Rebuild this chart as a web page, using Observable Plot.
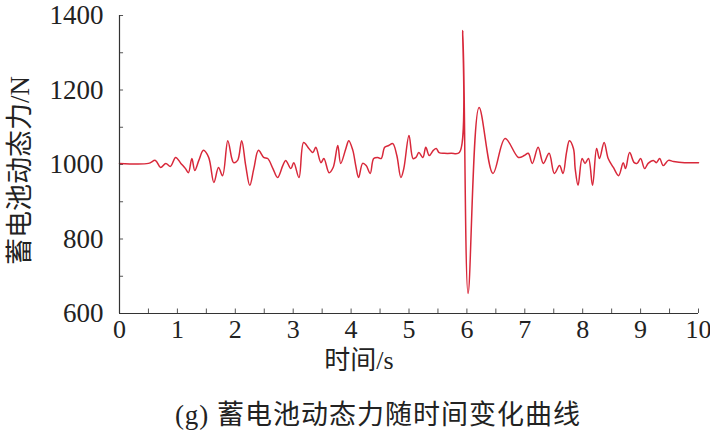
<!DOCTYPE html>
<html>
<head>
<meta charset="utf-8">
<script src="https://cdn.jsdelivr.net/npm/d3@7"></script>
<script src="https://cdn.jsdelivr.net/npm/@observablehq/plot@0.6"></script>
<style>
  html, body { margin: 0; padding: 0; background: #fff; }
  #wrap { width: 710px; height: 440px; position: relative; font-family: "Liberation Serif", "Noto Sans CJK SC", serif; }
  #caption { position: absolute; left: 0; width: 756px; top: 393px; text-align: center; font-size: 27px; letter-spacing: 1px; color: #222; font-family: "Liberation Serif", "Noto Sans CJK SC", serif; }
</style>
</head>
<body>
<div id="wrap"><div id="chart"></div><div id="caption">(g) 蓄电池动态力随时间变化曲线</div></div>
<script>
// time (s)
const time = [0, 0.50, 0.62, 0.71, 0.80, 0.88, 0.97, 1.06, 1.14, 1.19, 1.25, 1.30, 1.37, 1.45, 1.54, 1.63, 1.71, 1.78, 1.87, 1.94, 1.97, 2.04, 2.11, 2.18, 2.25, 2.32, 2.40, 2.49, 2.56, 2.65, 2.73, 2.82, 2.87, 2.96, 3.01, 3.10, 3.18, 3.27, 3.34, 3.39, 3.48, 3.53, 3.62, 3.69, 3.77, 3.82, 3.91, 3.96, 4.03, 4.08, 4.13, 4.20, 4.26, 4.33, 4.39, 4.46, 4.52, 4.58, 4.65, 4.72, 4.79, 4.86, 4.91, 5.00, 5.07, 5.12, 5.17, 5.24, 5.29, 5.35, 5.42, 5.47, 5.52, 5.61, 5.73, 5.87, 5.93, 6.02, 6.21, 6.45, 6.66, 6.89, 6.99, 7.06, 7.13, 7.23, 7.32, 7.42, 7.51, 7.60, 7.66, 7.72, 7.77, 7.84, 7.87, 7.92, 7.99, 8.04, 8.10, 8.17, 8.24, 8.29, 8.37, 8.44, 8.53, 8.62, 8.70, 8.74, 8.81, 8.89, 8.94, 9.00, 9.07, 9.13, 9.22, 9.27, 9.33, 9.39, 9.48, 9.57, 9.76, 10.0];
// dynamic force (N)
const force = [1003, 1003, 1011, 992, 1003, 995, 1019, 1003, 989, 978, 1016, 984, 1011, 1038, 1019, 952, 992, 970, 1064, 1016, 1005, 1011, 1064, 997, 944, 989, 1038, 1019, 1016, 989, 965, 997, 1011, 989, 1005, 965, 1059, 1043, 1032, 1046, 1005, 1016, 978, 992, 1051, 1003, 1043, 1064, 1038, 997, 965, 1003, 997, 976, 1016, 1019, 1016, 1046, 1051, 1056, 1024, 965, 989, 1078, 1016, 1019, 1032, 1019, 1046, 1024, 1038, 1043, 1032, 1030, 1030, 1032, 1360, 654, 1153, 976, 1070, 1019, 1024, 1030, 1003, 1046, 1003, 1030, 976, 997, 976, 1032, 1064, 1043, 989, 944, 1016, 1003, 1016, 944, 1043, 1016, 1059, 1016, 992, 970, 1005, 989, 1032, 1005, 1003, 1016, 989, 1003, 1011, 1005, 1016, 997, 1011, 1008, 1005, 1005];

const xTickLabels = [0, 1, 2, 3, 4, 5, 6, 7, 8, 9, 10];
const xMinorTicks = [0, 0.5, 1, 1.5, 2, 2.5, 3, 3.5, 4, 4.5, 5, 5.5, 6, 6.5, 7, 7.5, 8, 8.5, 9, 9.5, 10];
const yTickLabels = [600, 800, 1000, 1200, 1400];
const yMinorTicks = [600, 700, 800, 900, 1000, 1100, 1200, 1300, 1400];
const xTitle = "时间/s";
const yTitle = "蓄电池动态力/N";

const data = time.map((t, i) => ({t, f: force[i]}));
const font = "'Liberation Serif', 'Noto Sans CJK SC', serif";

const chart = Plot.plot({
  width: 710,
  height: 390,
  marginLeft: 119,
  marginRight: 12,
  marginTop: 15,
  marginBottom: 77,
  style: {fontFamily: font, fontSize: "27px", color: "#222", background: "#fff", overflow: "visible"},
  x: {domain: [0, 10]},
  y: {domain: [600, 1400]},
  marks: [
    Plot.axisX(xTickLabels, {tickSize: 0, tickPadding: 6, label: null, fontSize: 26, tickFormat: d3.format("d")}),
    Plot.axisY(yTickLabels, {tickSize: 0, tickPadding: 16, label: null, fontSize: 27, tickFormat: d3.format("d")}),
    Plot.ruleX(xMinorTicks, {y1: 600, y2: 612, stroke: "#555", strokeWidth: 1}),
    Plot.ruleY(yMinorTicks, {x1: 0, x2: 0.07, stroke: "#555", strokeWidth: 1}),
    Plot.line(data, {x: "t", y: "f", stroke: "#d8283a", strokeWidth: 1.5, curve: "catmull-rom"}),
    Plot.ruleY([600], {stroke: "#333", strokeWidth: 1.2}),
    Plot.ruleX([0], {stroke: "#333", strokeWidth: 1.2}),
    Plot.text([xTitle], {frameAnchor: "bottom", dy: 55, dx: -50, text: d => d, fontSize: 26, fill: "#222", fontFamily: font}),
    Plot.text([yTitle], {frameAnchor: "left", textAnchor: "middle", dx: -99, dy: 6, rotate: -90, text: d => d, fontSize: 27, fill: "#222", fontFamily: font})
  ]
});
document.getElementById("chart").appendChild(chart);
</script>
</body>
</html>
